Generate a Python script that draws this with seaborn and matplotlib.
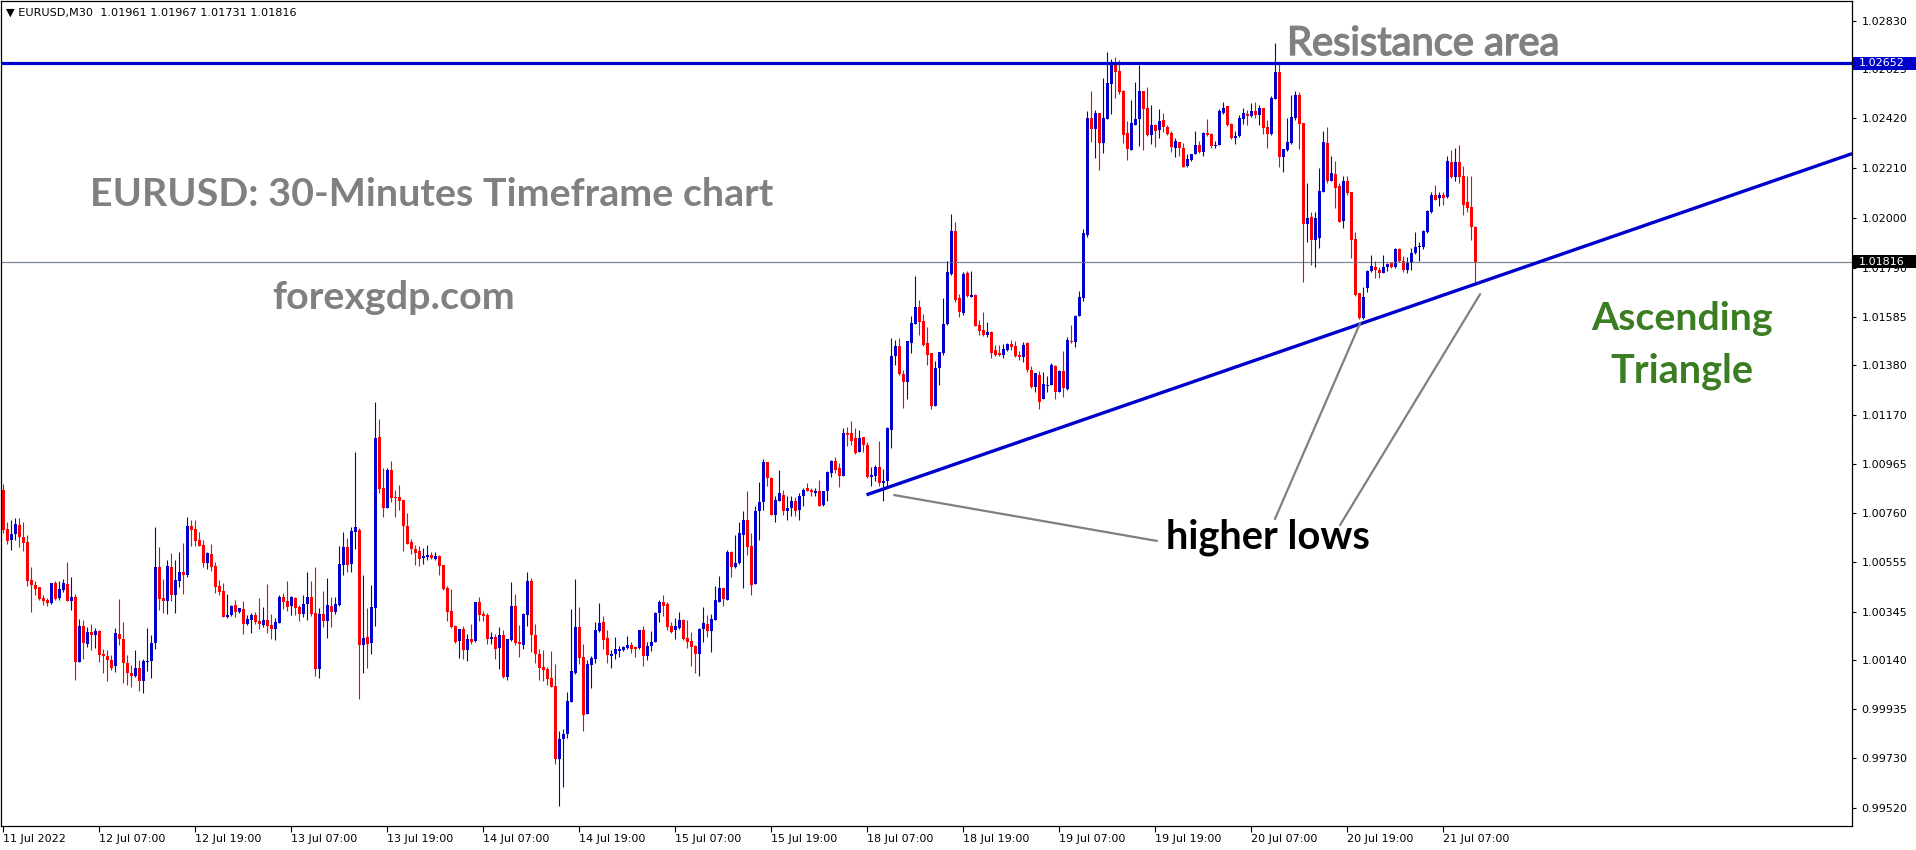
import numpy as np
import pandas as pd
import matplotlib
matplotlib.use("Agg")
import matplotlib.pyplot as plt
from matplotlib.patches import Rectangle
import matplotlib.patheffects as pe
import seaborn as sns

# ---------------- data (EURUSD M30 candles) ----------------
OPEN = [
1.00857,1.00693,1.00644,1.00672,1.00710,1.00660,1.00639,1.00479,1.00458,1.00450,
1.00403,1.00392,1.00382,1.00466,1.00403,1.00437,1.00462,1.00391,1.00408,1.00132,
1.00286,1.00207,1.00261,1.00248,1.00265,1.00165,1.00160,1.00143,1.00115,1.00252,
1.00231,1.00130,1.00088,1.00073,1.00109,1.00052,1.00132,1.00136,1.00212,1.00534,
1.00403,1.00388,1.00534,1.00413,1.00475,1.00513,1.00500,1.00706,1.00693,1.00647,
1.00626,1.00550,1.00588,1.00538,1.00454,1.00433,1.00324,1.00332,1.00374,1.00345,
1.00357,1.00294,1.00311,1.00332,1.00307,1.00290,1.00311,1.00290,1.00273,1.00298,
1.00408,1.00391,1.00370,1.00403,1.00366,1.00336,1.00378,1.00408,1.00340,1.00105,
1.00336,1.00307,1.00370,1.00345,1.00374,1.00542,1.00618,1.00546,1.00681,1.00689,
1.00206,1.00240,1.00214,1.00361,1.01080,1.00865,1.00781,1.00941,1.00828,1.00828,
1.00815,1.00706,1.00639,1.00609,1.00601,1.00571,1.00576,1.00584,1.00567,1.00580,
1.00542,1.00445,1.00349,1.00286,1.00223,1.00273,1.00185,1.00231,1.00223,1.00387,
1.00336,1.00332,1.00231,1.00240,1.00191,1.00248,1.00070,1.00227,1.00370,1.00219,
1.00203,1.00332,1.00475,1.00248,1.00168,1.00111,1.00102,1.00065,1.00031,0.99723,
0.99807,0.99828,0.99964,1.00086,1.00282,1.00153,0.99913,1.00122,1.00144,1.00265,
1.00303,1.00233,1.00157,1.00165,1.00177,1.00182,1.00191,1.00203,1.00195,1.00191,
1.00269,1.00157,1.00199,1.00216,1.00338,1.00387,1.00378,1.00283,1.00266,1.00275,
1.00311,1.00233,1.00220,1.00199,1.00165,1.00270,1.00291,1.00262,1.00311,1.00387,
1.00445,1.00395,1.00594,1.00531,1.00548,1.00669,1.00732,1.00619,1.00459,1.00766,
1.00804,1.00972,1.00905,1.00753,1.00812,1.00837,1.00770,1.00779,1.00812,1.00774,
1.00829,1.00863,1.00858,1.00842,1.00850,1.00795,1.00850,1.00926,1.00980,1.00947,
1.00917,1.01094,1.01094,1.01073,1.01014,1.01081,1.01047,1.00913,1.00917,1.00955,
1.00884,1.00893,1.01110,1.01418,1.01463,1.01345,1.01309,1.01475,1.01555,1.01627,
1.01568,1.01475,1.01431,1.01208,1.01368,1.01433,1.01555,1.01764,1.01946,1.01662,
1.01599,1.01769,1.01670,1.01677,1.01551,1.01530,1.01510,1.01522,1.01443,1.01431,
1.01422,1.01443,1.01471,1.01460,1.01426,1.01414,1.01473,1.01363,1.01288,1.01342,
1.01237,1.01295,1.01296,1.01376,1.01267,1.01355,1.01281,1.01484,1.01477,1.01590,
1.01662,1.01930,1.02421,1.02375,1.02442,1.02316,1.02417,1.02564,1.02652,1.02619,
1.02535,1.02358,1.02287,1.02392,1.02417,1.02535,1.02463,1.02350,1.02392,1.02371,
1.02413,1.02384,1.02358,1.02295,1.02321,1.02295,1.02220,1.02245,1.02270,1.02308,
1.02279,1.02358,1.02354,1.02304,1.02308,1.02442,1.02472,1.02396,1.02337,1.02346,
1.02417,1.02438,1.02430,1.02451,1.02434,1.02463,1.02384,1.02354,1.02501,1.02615,
1.02258,1.02287,1.02316,1.02421,1.02518,1.02400,1.01976,1.02006,1.01909,1.01917,
1.02108,1.02316,1.02158,1.02186,1.02133,1.01986,1.02154,1.02108,1.01910,1.01684,
1.01579,1.01705,1.01776,1.01796,1.01780,1.01768,1.01793,1.01810,1.01793,1.01871,
1.01818,1.01780,1.01810,1.01852,1.01877,1.01877,1.01940,1.02024,1.02099,1.02083,
1.02095,1.02087,1.02234,1.02171,1.02234,1.02175,1.02066,1.02045,1.01961]

HIGH = [
1.00882,1.00721,1.00731,1.00739,1.00738,1.00721,1.00665,1.00534,1.00472,1.00450,
1.00416,1.00402,1.00466,1.00472,1.00472,1.00483,1.00555,1.00492,1.00420,1.00315,
1.00311,1.00282,1.00294,1.00277,1.00269,1.00186,1.00182,1.00161,1.00277,1.00399,
1.00303,1.00164,1.00119,1.00185,1.00143,1.00147,1.00277,1.00248,1.00702,1.00618,
1.00483,1.00563,1.00592,1.00563,1.00597,1.00634,1.00744,1.00731,1.00731,1.00681,
1.00647,1.00597,1.00630,1.00555,1.00479,1.00466,1.00420,1.00374,1.00395,1.00361,
1.00391,1.00332,1.00340,1.00345,1.00403,1.00366,1.00462,1.00336,1.00319,1.00416,
1.00424,1.00475,1.00412,1.00408,1.00374,1.00416,1.00513,1.00475,1.00534,1.00361,
1.00433,1.00487,1.00408,1.00408,1.00622,1.00681,1.00655,1.00702,1.01017,1.00697,
1.00500,1.00361,1.00458,1.01227,1.01155,1.00949,1.00949,1.00979,1.00857,1.00878,
1.00815,1.00760,1.00651,1.00626,1.00622,1.00613,1.00626,1.00597,1.00597,1.00584,
1.00542,1.00454,1.00441,1.00290,1.00273,1.00286,1.00252,1.00294,1.00387,1.00408,
1.00349,1.00340,1.00261,1.00252,1.00280,1.00269,1.00231,1.00471,1.00420,1.00290,
1.00340,1.00513,1.00487,1.00294,1.00189,1.00185,1.00111,1.00177,1.00126,0.99841,
0.99849,1.00006,1.00357,1.00483,1.00366,1.00210,1.00143,1.00157,1.00303,1.00382,
1.00328,1.00269,1.00185,1.00240,1.00199,1.00199,1.00244,1.00216,1.00199,1.00269,
1.00286,1.00216,1.00265,1.00345,1.00395,1.00416,1.00387,1.00300,1.00319,1.00345,
1.00315,1.00311,1.00258,1.00203,1.00275,1.00366,1.00332,1.00336,1.00454,1.00496,
1.00445,1.00602,1.00598,1.00669,1.00720,1.00770,1.00854,1.00674,1.00787,1.00888,
1.00987,1.00976,1.00909,1.00829,1.00942,1.00858,1.00829,1.00832,1.00825,1.00842,
1.00863,1.00885,1.00863,1.00863,1.00900,1.00850,1.00938,1.00984,1.00993,1.00968,
1.01115,1.01123,1.01147,1.01119,1.01110,1.01081,1.01060,1.00955,1.00962,1.01064,
1.00945,1.01123,1.01496,1.01488,1.01496,1.01362,1.01484,1.01589,1.01757,1.01656,
1.01597,1.01543,1.01431,1.01400,1.01438,1.01664,1.01820,1.02017,1.01984,1.01681,
1.01774,1.01778,1.01778,1.01681,1.01572,1.01606,1.01564,1.01526,1.01467,1.01467,
1.01471,1.01475,1.01488,1.01484,1.01439,1.01477,1.01477,1.01376,1.01347,1.01355,
1.01351,1.01334,1.01389,1.01380,1.01359,1.01439,1.01501,1.01551,1.01594,1.01695,
1.01956,1.02451,1.02535,1.02454,1.02442,1.02589,1.02699,1.02669,1.02678,1.02665,
1.02539,1.02409,1.02497,1.02573,1.02645,1.02535,1.02552,1.02476,1.02396,1.02459,
1.02442,1.02392,1.02367,1.02337,1.02321,1.02316,1.02270,1.02270,1.02367,1.02325,
1.02363,1.02417,1.02358,1.02325,1.02459,1.02489,1.02472,1.02400,1.02367,1.02434,
1.02463,1.02455,1.02484,1.02489,1.02476,1.02463,1.02413,1.02514,1.02736,1.02652,
1.02291,1.02421,1.02518,1.02535,1.02531,1.02400,1.02147,1.02027,1.02027,1.02211,
1.02367,1.02384,1.02262,1.02241,1.02146,1.02179,1.02179,1.02108,1.01940,1.01684,
1.01709,1.01782,1.01845,1.01818,1.01793,1.01843,1.01810,1.01810,1.01875,1.01875,
1.01839,1.01835,1.01873,1.01940,1.01898,1.01948,1.02032,1.02108,1.02141,1.02108,
1.02109,1.02263,1.02288,1.02293,1.02309,1.02221,1.02179,1.02179,1.01967]

LOW = [
1.00675,1.00629,1.00605,1.00644,1.00616,1.00598,1.00451,1.00342,1.00413,1.00394,
1.00374,1.00367,1.00378,1.00395,1.00395,1.00426,1.00388,1.00353,1.00059,1.00132,
1.00144,1.00195,1.00182,1.00191,1.00132,1.00088,1.00051,1.00098,1.00090,1.00203,
1.00046,1.00034,1.00027,1.00069,1.00010,1.00002,1.00093,1.00065,1.00186,1.00353,
1.00338,1.00333,1.00388,1.00338,1.00447,1.00417,1.00489,1.00619,1.00619,1.00619,
1.00534,1.00525,1.00517,1.00424,1.00416,1.00324,1.00319,1.00328,1.00324,1.00340,
1.00252,1.00290,1.00256,1.00294,1.00273,1.00282,1.00256,1.00231,1.00227,1.00298,
1.00357,1.00349,1.00332,1.00332,1.00307,1.00324,1.00311,1.00328,1.00076,1.00067,
1.00282,1.00235,1.00282,1.00336,1.00370,1.00500,1.00513,1.00513,1.00609,0.99979,
1.00088,1.00109,1.00168,1.00286,1.00844,1.00744,1.00781,1.00807,1.00744,1.00773,
1.00601,1.00630,1.00588,1.00542,1.00538,1.00546,1.00563,1.00567,1.00563,1.00500,
1.00437,1.00307,1.00277,1.00214,1.00151,1.00147,1.00139,1.00210,1.00219,1.00307,
1.00307,1.00210,1.00210,1.00147,1.00102,1.00065,1.00056,1.00223,1.00205,1.00153,
1.00186,1.00283,1.00174,1.00129,1.00056,1.00052,1.00035,1.00027,0.99705,0.99527,
0.99607,0.99815,0.99964,1.00081,1.00123,0.99842,0.99913,1.00023,1.00128,1.00261,
1.00186,1.00128,1.00107,1.00144,1.00153,1.00178,1.00186,1.00170,1.00153,1.00186,
1.00115,1.00140,1.00178,1.00216,1.00300,1.00325,1.00266,1.00254,1.00228,1.00270,
1.00224,1.00191,1.00115,1.00086,1.00073,1.00216,1.00237,1.00174,1.00311,1.00387,
1.00367,1.00395,1.00489,1.00527,1.00543,1.00443,1.00581,1.00413,1.00459,1.00644,
1.00774,1.00875,1.00749,1.00720,1.00808,1.00749,1.00728,1.00745,1.00745,1.00732,
1.00791,1.00850,1.00833,1.00833,1.00787,1.00791,1.00808,1.00913,1.00926,1.00867,
1.00917,1.01043,1.01047,1.01008,1.01014,1.01018,1.00906,1.00871,1.00892,1.00871,
1.00812,1.00871,1.01032,1.01383,1.01338,1.01200,1.01237,1.01431,1.01555,1.01509,
1.01463,1.01380,1.01195,1.01208,1.01296,1.01422,1.01551,1.01760,1.01649,1.01582,
1.01594,1.01670,1.01670,1.01544,1.01510,1.01502,1.01498,1.01410,1.01418,1.01418,
1.01410,1.01439,1.01443,1.01414,1.01405,1.01393,1.01351,1.01286,1.01267,1.01195,
1.01237,1.01267,1.01296,1.01237,1.01267,1.01246,1.01275,1.01473,1.01456,1.01586,
1.01653,1.01922,1.02318,1.02251,1.02204,1.02272,1.02417,1.02438,1.02505,1.02522,
1.02316,1.02245,1.02287,1.02392,1.02304,1.02287,1.02346,1.02312,1.02300,1.02337,
1.02363,1.02350,1.02279,1.02258,1.02262,1.02216,1.02216,1.02241,1.02270,1.02274,
1.02262,1.02346,1.02295,1.02295,1.02308,1.02438,1.02388,1.02333,1.02312,1.02342,
1.02396,1.02392,1.02426,1.02421,1.02392,1.02354,1.02295,1.02350,1.02501,1.02216,
1.02195,1.02283,1.02312,1.02413,1.02291,1.01733,1.01901,1.01804,1.01796,1.01875,
1.02108,1.02146,1.02154,1.02041,1.01982,1.01957,1.02099,1.01831,1.01672,1.01574,
1.01574,1.01688,1.01772,1.01747,1.01747,1.01768,1.01776,1.01789,1.01789,1.01814,
1.01772,1.01768,1.01780,1.01847,1.01818,1.01868,1.01936,1.02020,1.02074,1.02049,
1.02053,1.02083,1.02167,1.02154,1.02146,1.02015,1.02024,1.01906,1.01731]

CLOSE = [
1.00689,1.00640,1.00672,1.00714,1.00657,1.00632,1.00472,1.00455,1.00441,1.00399,
1.00388,1.00380,1.00466,1.00399,1.00441,1.00466,1.00391,1.00408,1.00132,1.00286,
1.00212,1.00261,1.00248,1.00265,1.00161,1.00157,1.00140,1.00109,1.00256,1.00228,
1.00128,1.00086,1.00073,1.00109,1.00052,1.00135,1.00139,1.00214,1.00534,1.00399,
1.00388,1.00538,1.00413,1.00479,1.00513,1.00500,1.00706,1.00689,1.00643,1.00622,
1.00550,1.00592,1.00534,1.00450,1.00429,1.00324,1.00332,1.00370,1.00345,1.00361,
1.00294,1.00315,1.00332,1.00303,1.00294,1.00311,1.00286,1.00273,1.00303,1.00408,
1.00387,1.00366,1.00408,1.00361,1.00336,1.00378,1.00408,1.00336,1.00105,1.00336,
1.00307,1.00374,1.00345,1.00378,1.00546,1.00618,1.00542,1.00685,1.00702,1.00206,
1.00235,1.00210,1.00366,1.01075,1.00861,1.00781,1.00941,1.00823,1.00823,1.00811,
1.00706,1.00630,1.00609,1.00592,1.00567,1.00580,1.00584,1.00571,1.00580,1.00538,
1.00441,1.00345,1.00282,1.00219,1.00273,1.00185,1.00231,1.00219,1.00387,1.00332,
1.00328,1.00231,1.00240,1.00189,1.00248,1.00070,1.00231,1.00370,1.00213,1.00207,
1.00336,1.00475,1.00248,1.00165,1.00107,1.00098,1.00060,1.00027,0.99723,0.99811,
0.99832,0.99968,1.00093,1.00282,1.00149,0.99909,1.00126,1.00149,1.00269,1.00298,
1.00224,1.00161,1.00165,1.00186,1.00186,1.00195,1.00206,1.00186,1.00186,1.00269,
1.00157,1.00199,1.00219,1.00340,1.00387,1.00370,1.00279,1.00258,1.00283,1.00311,
1.00228,1.00216,1.00195,1.00165,1.00270,1.00296,1.00262,1.00315,1.00395,1.00445,
1.00399,1.00594,1.00531,1.00548,1.00674,1.00732,1.00615,1.00455,1.00766,1.00807,
1.00972,1.00905,1.00749,1.00816,1.00842,1.00770,1.00779,1.00808,1.00770,1.00833,
1.00858,1.00854,1.00846,1.00850,1.00791,1.00850,1.00930,1.00980,1.00942,1.00917,
1.01094,1.01089,1.01064,1.01011,1.01077,1.01047,1.00913,1.00920,1.00955,1.00884,
1.00896,1.01115,1.01421,1.01463,1.01345,1.01309,1.01484,1.01559,1.01627,1.01564,
1.01467,1.01426,1.01208,1.01370,1.01438,1.01555,1.01774,1.01946,1.01657,1.01603,
1.01765,1.01673,1.01677,1.01548,1.01527,1.01510,1.01522,1.01433,1.01426,1.01422,
1.01450,1.01471,1.01456,1.01418,1.01414,1.01468,1.01359,1.01288,1.01347,1.01226,
1.01300,1.01298,1.01380,1.01267,1.01355,1.01284,1.01488,1.01477,1.01590,1.01670,
1.01939,1.02421,1.02375,1.02442,1.02316,1.02421,1.02568,1.02652,1.02615,1.02531,
1.02350,1.02291,1.02400,1.02417,1.02535,1.02459,1.02350,1.02392,1.02367,1.02409,
1.02384,1.02354,1.02300,1.02325,1.02295,1.02216,1.02249,1.02270,1.02308,1.02279,
1.02358,1.02350,1.02304,1.02308,1.02451,1.02463,1.02392,1.02337,1.02346,1.02421,
1.02442,1.02430,1.02451,1.02434,1.02463,1.02379,1.02354,1.02505,1.02615,1.02258,
1.02291,1.02321,1.02426,1.02518,1.02396,1.01976,1.02001,1.01909,1.02001,1.02115,
1.02321,1.02154,1.02190,1.02125,1.01982,1.02154,1.02104,1.01906,1.01677,1.01579,
1.01670,1.01779,1.01800,1.01780,1.01768,1.01796,1.01805,1.01793,1.01871,1.01818,
1.01780,1.01814,1.01852,1.01877,1.01881,1.01944,1.02028,1.02099,1.02078,1.02095,
1.02083,1.02238,1.02171,1.02234,1.02171,1.02057,1.02041,1.01961,1.01816]

TIME_LABELS = ["11 Jul 2022", "12 Jul 07:00", "12 Jul 19:00", "13 Jul 07:00",
               "13 Jul 19:00", "14 Jul 07:00", "14 Jul 19:00", "15 Jul 07:00",
               "15 Jul 19:00", "18 Jul 07:00", "18 Jul 19:00", "19 Jul 07:00",
               "19 Jul 19:00", "20 Jul 07:00", "20 Jul 19:00", "21 Jul 07:00"]
BARS_PER_LABEL = 24

PRICE_TICKS = [1.02830, 1.02625, 1.02420, 1.02210, 1.02000, 1.01790, 1.01585,
               1.01380, 1.01170, 1.00965, 1.00760, 1.00555, 1.00345, 1.00140,
               0.99935, 0.99730, 0.99520]

RESISTANCE = 1.02652
BID = 1.01816
HEADER = "\u25BC EURUSD,M30  1.01961 1.01967 1.01731 1.01816"

# trend line (bar index, price) and pointer lines for "higher lows"
TREND_BAR = [215.8, 462.2]
TREND_PRICE = [1.00836, 1.02271]
POINTER_BARS = [[222.7, 288.4], [339.2, 317.9], [369.2, 334.2]]
POINTER_PRICES = [[1.00835, 1.00642], [1.01558, 1.00734], [1.01680, 1.00709]]

# ---------------- figure ----------------
sns.set_theme(style="white")
plt.rcParams["font.family"] = ["DejaVu Sans"]

W, H = 1916, 850
BLUE = "#0000CD"
RED = "#FF0000"

df = pd.DataFrame({"open": OPEN, "high": HIGH, "low": LOW, "close": CLOSE})
df["bar"] = np.arange(len(df))
df["bull"] = df["close"] >= df["open"]
df["body_lo"] = df[["open", "close"]].min(axis=1)
df["body_h"] = (df["close"] - df["open"]).abs().clip(lower=0.00004)
df["color"] = np.where(df["bull"], BLUE, RED)

fig = plt.figure(figsize=(W / 100, H / 100), dpi=100)
fig.patch.set_facecolor("white")
ax = fig.add_axes([1 / W, 24 / H, 1851 / W, 825 / H])
ax.set_facecolor("white")

# wicks and bodies
ax.vlines(df["bar"], df["low"], df["high"], colors=df["color"], linewidth=0.8)
ax.bar(df["bar"], df["body_h"], bottom=df["body_lo"], width=0.66,
       color=df["color"], linewidth=0)

# horizontal lines
ax.axhline(RESISTANCE, color=BLUE, linewidth=2.3, zorder=3)
ax.axhline(BID, color="#7B8894", linewidth=0.9, zorder=1)

# trend line
ax.plot(TREND_BAR, TREND_PRICE, color=BLUE, linewidth=2.4,
        solid_capstyle="butt", zorder=4)
for bx, py in zip(POINTER_BARS, POINTER_PRICES):
    sns.lineplot(x=bx, y=py, ax=ax, color="#808080", linewidth=1.6,
                 sort=False, estimator=None, zorder=4)

ax.set_xlim(-0.575, 462.175)
ax.set_ylim(0.99443, 1.02913)

# axes styling
for sp in ax.spines.values():
    sp.set_visible(True)
    sp.set_color("black")
    sp.set_linewidth(0.9)

ax.yaxis.tick_right()
ax.set_yticks(PRICE_TICKS)
ax.set_yticklabels([f"{v:.5f}" for v in PRICE_TICKS])
ax.tick_params(axis="y", direction="out", length=3, width=0.8, pad=4,
               labelsize=8, colors="black", right=True, left=False)

ax.set_xticks(np.arange(len(TIME_LABELS)) * BARS_PER_LABEL)
ax.set_xticklabels(TIME_LABELS, ha="left")
ax.tick_params(axis="x", direction="out", length=4, width=0.8, pad=2,
               labelsize=8, colors="black", bottom=True)
ax.grid(False)

# highlighted price labels on the right scale
fig.canvas.draw()
renderer = fig.canvas.get_renderer()
for val, bg in [(RESISTANCE, BLUE), (BID, "black")]:
    ypix = ax.transData.transform((0, val))[1]
    fig.patches.append(Rectangle((1853 / W, (ypix - 6.5) / H), 63 / W, 13 / H,
                                 transform=fig.transFigure, facecolor=bg,
                                 edgecolor="none", zorder=5))
    fig.text(1859 / W, ypix / H, f"{val:.5f}", color="white", fontsize=8,
             ha="left", va="center", zorder=6)


def place(s, x, y, width, ha="left", va="baseline", **kw):
    t = fig.text(x / W, 1 - y / H, s, ha=ha, va=va, fontsize=20, **kw)
    bb = t.get_window_extent(renderer=renderer)
    t.set_fontsize(20 * width / bb.width)
    return t


LATO = ["Lato", "DejaVu Sans"]
place(HEADER, 6, 13, 290, va="center", color="black", family=["DejaVu Sans"])
place("Resistance area", 1287, 55, 273, color="#808080", family=LATO,
      path_effects=[pe.withStroke(linewidth=1.1, foreground="#808080")])
place("EURUSD: 30-Minutes Timeframe chart", 90, 206, 682, color="#808080",
      family=LATO, fontweight="bold")
place("forexgdp.com", 272, 309, 243, color="#808080", family=LATO,
      fontweight="bold")
place("Ascending", 1682, 330, 182, ha="center", color="#3A7D22", family=LATO,
      fontweight="bold")
place("Triangle", 1682, 382, 143, ha="center", color="#3A7D22", family=LATO,
      fontweight="bold")
place("higher lows", 1166, 549, 204, color="black", family=LATO,
      fontweight="bold")

fig.savefig("out.png", dpi=100, facecolor="white")
